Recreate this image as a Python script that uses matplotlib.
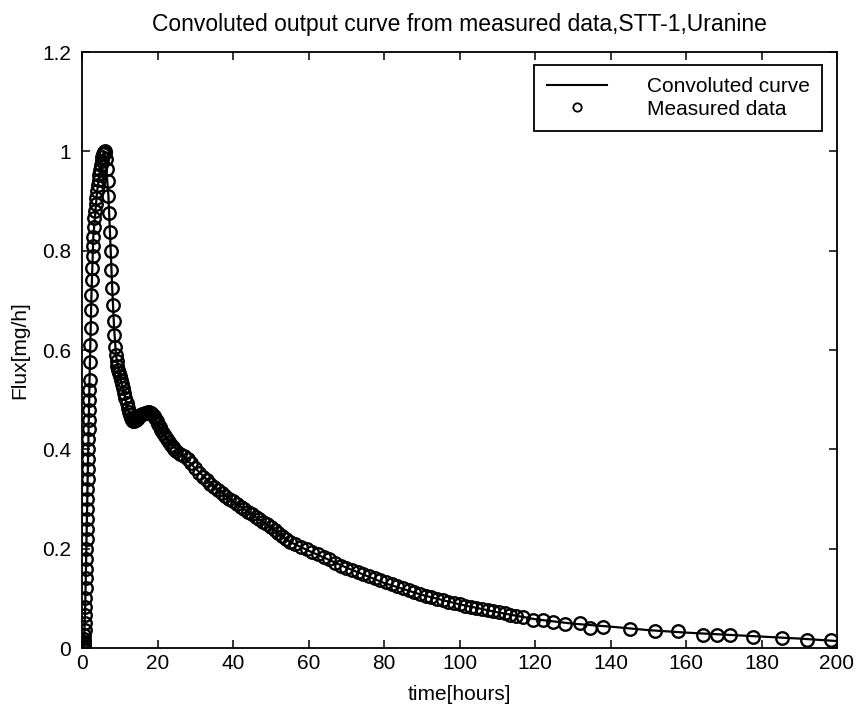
import matplotlib
matplotlib.use("Agg")
import matplotlib.pyplot as plt
from matplotlib.lines import Line2D

plt.rcParams['font.family'] = ['Liberation Sans', 'DejaVu Sans']

# Measured data (time in hours, flux in mg/h)
t_meas = [0.0, 0.1, 0.2, 0.3, 0.4, 0.5, 0.55, 0.6, 0.65, 0.7, 0.75, 0.8, 0.85, 0.9, 0.95,
          1.0, 1.05, 1.1, 1.15, 1.2, 1.25, 1.3, 1.35, 1.4, 1.45, 1.5, 1.55, 1.6, 1.65, 1.7,
          1.75, 1.8, 1.85, 1.9, 1.95, 2.0, 2.1, 2.2, 2.3, 2.4, 2.5, 2.6, 2.7, 2.8, 2.9, 3.0,
          3.15, 3.3, 3.45, 3.6, 3.8, 4.0, 4.2, 4.4, 4.6, 4.8, 5.0, 5.2, 5.4, 5.6, 5.8, 6.0,
          6.2, 6.4, 6.6, 6.8, 7.0, 7.2, 7.4, 7.6, 7.8, 8.0, 8.2, 8.4, 8.6, 8.8, 9.0, 9.2,
          9.4, 9.6, 9.8, 10.0, 10.3, 10.6, 10.9, 11.2, 11.5, 11.8, 12.1, 12.4, 12.7, 13.0,
          13.3, 13.6, 13.9, 14.2, 14.5, 14.8, 15.1, 15.4, 15.8, 16.2, 16.6, 17.0, 17.4, 17.8,
          18.2, 18.6, 19.0, 19.4, 19.8, 20.2, 20.6, 21.0, 21.5, 22.0, 22.5, 23.0, 23.5, 24.0,
          24.5, 25.0, 26.0, 27.0, 28.0, 29.0, 30.0, 31.0, 32.0, 33.0, 34.0, 35.0, 36.0, 37.0,
          38.0, 39.0, 40.0, 41.0, 42.0, 43.0, 44.0, 45.0, 46.0, 47.0, 48.0, 49.0, 50.0, 51.0,
          52.0, 53.0, 54.0, 55.0, 56.5, 58.0, 59.5, 61.0, 62.5, 64.0, 65.5, 67.0, 68.5, 70.0,
          71.5, 73.0, 74.5, 76.0, 77.5, 79.0, 80.5, 82.0, 83.5, 85.0, 86.5, 88.0, 89.5, 91.0,
          92.5, 94.0, 95.5, 97.0, 98.5, 100.0, 101.5, 103.0, 104.5, 106.0, 107.5, 109.0,
          110.5, 112.0, 113.5, 115.0, 116.8, 119.5, 122.0, 124.8, 127.9, 131.9, 134.5, 138.0,
          145.2, 151.8, 157.9, 164.5, 168.2, 171.6, 177.7, 185.4, 192.0, 198.5]
f_meas = [0.000, 0.000, 0.001, 0.002, 0.004, 0.008, 0.012, 0.018, 0.026, 0.036, 0.050, 0.066,
          0.083, 0.101, 0.120, 0.140, 0.160, 0.180, 0.200, 0.220, 0.240, 0.260, 0.280, 0.300,
          0.320, 0.340, 0.360, 0.380, 0.400, 0.420, 0.440, 0.460, 0.480, 0.500, 0.520, 0.540,
          0.575, 0.610, 0.645, 0.680, 0.710, 0.740, 0.765, 0.790, 0.810, 0.828, 0.848, 0.865,
          0.880, 0.893, 0.907, 0.920, 0.932, 0.943, 0.953, 0.963, 0.972, 0.981, 0.989, 0.995,
          0.999, 1.000,
          0.996, 0.985, 0.965, 0.940, 0.910, 0.875, 0.838, 0.800, 0.762, 0.725, 0.690, 0.658,
          0.630, 0.607, 0.590, 0.578, 0.568, 0.560, 0.553, 0.547, 0.540, 0.532, 0.524, 0.514,
          0.503, 0.493, 0.484, 0.476, 0.469, 0.463, 0.460, 0.458, 0.458, 0.459, 0.461, 0.464,
          0.467, 0.469, 0.471, 0.472, 0.473, 0.474, 0.475, 0.475, 0.474, 0.472, 0.468, 0.463,
          0.457, 0.451, 0.445, 0.439, 0.432, 0.426, 0.420, 0.414, 0.409, 0.404, 0.400, 0.396,
          0.391, 0.386, 0.380, 0.372, 0.362, 0.352, 0.345, 0.338, 0.331, 0.325, 0.318, 0.312,
          0.306, 0.300, 0.295, 0.289, 0.284, 0.279, 0.274, 0.269, 0.264, 0.259, 0.254, 0.249,
          0.243, 0.237, 0.231, 0.225, 0.219, 0.214, 0.209, 0.204, 0.199, 0.194, 0.189, 0.184,
          0.179, 0.172, 0.166, 0.162, 0.158, 0.154, 0.150, 0.145, 0.141, 0.137, 0.133, 0.129,
          0.124, 0.120, 0.117, 0.113, 0.109, 0.105, 0.102, 0.099, 0.096, 0.093, 0.090, 0.088,
          0.085, 0.083, 0.080, 0.078, 0.076, 0.074, 0.072, 0.070, 0.067, 0.065, 0.063, 0.056,
          0.057, 0.052, 0.049, 0.050, 0.041, 0.043, 0.038, 0.034, 0.034, 0.027, 0.027, 0.026,
          0.023, 0.020, 0.016, 0.016]

# Convoluted curve
t_conv = [0, 0.5, 0.8, 1.0, 1.5, 2.0, 2.5, 3.0, 4.0, 5.0, 5.8, 6.5, 7.0, 7.5, 8.0, 8.5, 9.0,
          10, 11, 12, 13, 14, 15, 16, 17, 18, 19, 20, 22, 25, 30, 35, 40, 45, 50, 55, 60, 70,
          80, 90, 100, 110, 120, 130, 140, 150, 160, 170, 180, 190, 200]
f_conv = [0, 0.008, 0.066, 0.14, 0.34, 0.54, 0.71, 0.828, 0.92, 0.972, 1.0, 0.96, 0.91, 0.82,
          0.725, 0.645, 0.59, 0.547, 0.52, 0.484, 0.463, 0.458, 0.467, 0.472, 0.474, 0.474,
          0.468, 0.451, 0.426, 0.40, 0.362, 0.325, 0.295, 0.269, 0.243, 0.214, 0.196, 0.162,
          0.131, 0.107, 0.088, 0.072, 0.058, 0.049, 0.043, 0.036, 0.031, 0.027, 0.023, 0.019,
          0.014]

x_ticks = [0, 20, 40, 60, 80, 100, 120, 140, 160, 180, 200]
y_ticks = [0, 0.2, 0.4, 0.6, 0.8, 1.0, 1.2]
y_tick_labels = ['0', '0.2', '0.4', '0.6', '0.8', '1', '1.2']

fig = plt.figure(figsize=(8.59, 7.10), dpi=100)
ax = fig.add_axes([82 / 859, 1 - 648 / 710, (837 - 82) / 859, (648 - 52) / 710])

ax.plot(t_conv, f_conv, color='black', linewidth=1.6, label='Convoluted curve')
ax.plot(t_meas, f_meas, linestyle='none', marker='o', markersize=9,
        markerfacecolor='none', markeredgecolor='black', markeredgewidth=1.7,
        label='Measured data')

ax.set_xlim(0, 200)
ax.set_ylim(0, 1.2)
ax.set_xticks(x_ticks)
ax.set_yticks(y_ticks)
ax.set_yticklabels(y_tick_labels)
ax.tick_params(direction='in', top=True, right=True, length=6, width=1.1,
               labelsize=15)
ax.tick_params(axis='y', pad=8)
ax.tick_params(axis='x', pad=4)
for s in ax.spines.values():
    s.set_linewidth(1.3)

ax.set_title('Convoluted output curve from measured data,STT-1,Uranine', fontsize=16.5, pad=15)
ax.set_xlabel('time[hours]', fontsize=15, labelpad=9)
ax.set_ylabel('Flux[mg/h]', fontsize=15, labelpad=9)

handles = [Line2D([], [], color='black', linewidth=1.5),
           Line2D([], [], linestyle='none', marker='o', markersize=6, markerfacecolor='none',
                  markeredgecolor='black', markeredgewidth=1.3)]
leg = ax.legend(handles, ['Convoluted curve', 'Measured data'], loc='upper right',
                bbox_to_anchor=(822 / 859, 1 - 65 / 710), bbox_transform=fig.transFigure,
                fancybox=False, edgecolor='black', framealpha=1, fontsize=15,
                handlelength=2.9, handletextpad=1.9, borderpad=0.6, labelspacing=0.15,
                borderaxespad=0)
leg.get_frame().set_linewidth(1.3)

fig.savefig('out.png', dpi=100)
